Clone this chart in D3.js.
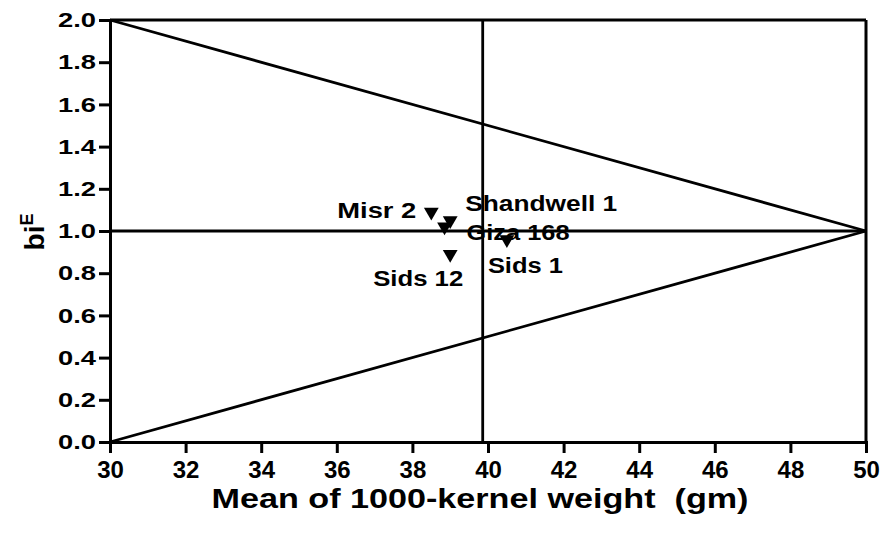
<!DOCTYPE html>
<html>
<head>
<meta charset="utf-8">
<script src="https://cdn.jsdelivr.net/npm/d3@7"></script>
<style>
  html, body { margin: 0; padding: 0; background: #fff; }
  svg { display: block; font-family: "Liberation Sans", Arial, sans-serif; font-weight: bold; }
</style>
</head>
<body>
<svg id="chart" width="888" height="535"></svg>
<script>
// ---- data ----
const genotypes = ["Misr 2", "Shandwell 1", "Giza 168", "Sids 1", "Sids 12"];
const meanWeight = [38.5, 39.0, 38.85, 40.5, 39.0];
const biE = [1.09, 1.05, 1.02, 0.96, 0.89];
const grandMean = 39.86;
const xTicks = [30, 32, 34, 36, 38, 40, 42, 44, 46, 48, 50];
const yTicks = [0.0, 0.2, 0.4, 0.6, 0.8, 1.0, 1.2, 1.4, 1.6, 1.8, 2.0];
const xDomain = [30, 50];
const yDomain = [0, 2];
const xTitle = "Mean of 1000-kernel weight  (gm)";

// label layout (pixel offsets from marker, anchor, width)
const labelDx = [-15, 15, 22, -19, 13];
const labelDy = [6, -9, 13, 34, 32];
const labelAnchor = ["end", "start", "start", "start", "end"];
const labelWidth = [79, 152, 103, 75, 90];

// ---- layout ----
const svg = d3.select("#chart");
const x = d3.scaleLinear().domain(xDomain).range([110, 866]);
const y = d3.scaleLinear().domain(yDomain).range([442, 20]);
const LW = 3;

// axes
const xAxis = svg.append("g").attr("transform", `translate(0,${y(0)})`)
  .call(d3.axisBottom(x).tickValues(xTicks).tickFormat(d3.format("d")).tickSize(11).tickPadding(8));
const yAxis = svg.append("g").attr("transform", `translate(${x(30)},0)`)
  .call(d3.axisLeft(y).tickValues(yTicks).tickFormat(d3.format(".1f")).tickSize(11).tickPadding(3));

[xAxis, yAxis].forEach(g => {
  g.select(".domain").attr("stroke", "#000").attr("stroke-width", LW);
  g.selectAll(".tick line").attr("stroke", "#000").attr("stroke-width", LW);
  g.selectAll(".tick text").attr("fill", "#000").attr("font-weight", "bold")
    .attr("font-family", "Liberation Sans, Arial, sans-serif");
});
xAxis.selectAll(".tick text").attr("font-size", 24);
yAxis.selectAll(".tick text").attr("font-size", 21)
  .attr("textLength", 38).attr("lengthAdjust", "spacingAndGlyphs");

// frame lines (top and right)
svg.append("line").attr("x1", x(30)).attr("x2", x(50)).attr("y1", y(2)).attr("y2", y(2))
  .attr("stroke", "#000").attr("stroke-width", LW);
svg.append("line").attr("x1", x(50)).attr("x2", x(50)).attr("y1", y(2)).attr("y2", y(0))
  .attr("stroke", "#000").attr("stroke-width", LW);

// reference lines
const refLines = [
  [[30, 2.0], [50, 1.0]],
  [[30, 0.0], [50, 1.0]],
  [[30, 1.0], [50, 1.0]],
  [[grandMean, 0], [grandMean, 2]]
];
const line = d3.line().x(d => x(d[0])).y(d => y(d[1]));
svg.selectAll("path.ref").data(refLines).enter().append("path")
  .attr("class", "ref").attr("d", line).attr("fill", "none")
  .attr("stroke", "#000").attr("stroke-width", 2.8);

// points
const sym = d3.symbol().type(d3.symbolTriangle).size(95);
const pts = genotypes.map((g, i) => ({ name: g, mx: meanWeight[i], b: biE[i], i }));
svg.selectAll("path.pt").data(pts).enter().append("path")
  .attr("class", "pt").attr("d", sym)
  .attr("transform", d => `translate(${x(d.mx)},${y(d.b)}) rotate(180)`)
  .attr("fill", "#000");

// labels
svg.selectAll("text.lab").data(pts).enter().append("text")
  .attr("class", "lab")
  .attr("x", d => x(d.mx) + labelDx[d.i])
  .attr("y", d => y(d.b) + labelDy[d.i])
  .attr("text-anchor", d => labelAnchor[d.i])
  .attr("font-size", 22)
  .attr("textLength", d => labelWidth[d.i])
  .attr("lengthAdjust", "spacingAndGlyphs")
  .attr("fill", "#000")
  .text(d => d.name);

// x title
svg.append("text")
  .attr("x", 480).attr("y", 508)
  .attr("text-anchor", "middle")
  .attr("font-size", 28)
  .attr("textLength", 537).attr("lengthAdjust", "spacingAndGlyphs")
  .style("white-space", "pre")
  .attr("fill", "#000")
  .text(xTitle);

// y title bi^E
const yt = svg.append("text")
  .attr("transform", "translate(44,232) rotate(-90)")
  .attr("text-anchor", "middle")
  .attr("font-size", 28)
  .attr("fill", "#000");
yt.append("tspan").text("bi");
yt.append("tspan").attr("dy", -11).attr("font-size", 18).text("E");
</script>
</body>
</html>
